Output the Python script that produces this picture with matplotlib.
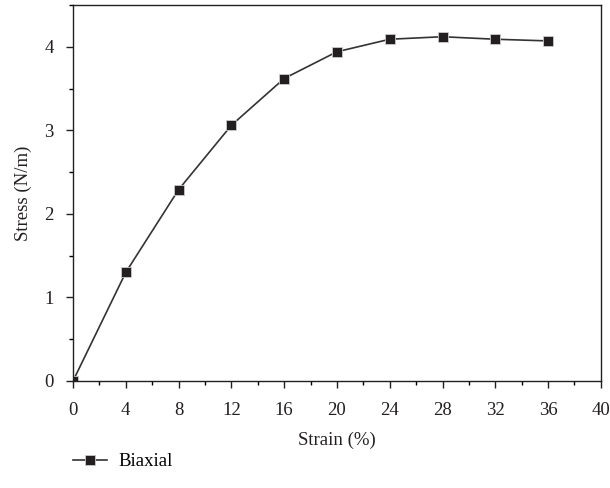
import matplotlib.pyplot as plt
from matplotlib.ticker import MultipleLocator

plt.rcParams['font.family'] = ['Liberation Serif', 'DejaVu Serif']

strain = [0, 4, 8, 12, 16, 20, 24, 28, 32, 36]
stress = [0.0, 1.30, 2.29, 3.06, 3.62, 3.94, 4.09, 4.12, 4.09, 4.07]

fig = plt.figure(figsize=(6.1, 4.88), dpi=100)
ax = fig.add_axes([0.1197, 0.2193, 0.8653, 0.7705])

ax.plot(strain, stress, color='#333333', lw=1.2, marker='s', markersize=7,
        markerfacecolor='#231f20', markeredgecolor='#cccccc', markeredgewidth=0.6,
        label='Biaxial')

ax.set_xlim(0, 40)
ax.set_ylim(0, 4.5)
ax.xaxis.set_major_locator(MultipleLocator(4))
ax.xaxis.set_minor_locator(MultipleLocator(2))
ax.yaxis.set_major_locator(MultipleLocator(1))
ax.yaxis.set_minor_locator(MultipleLocator(0.5))
ax.tick_params(which='major', direction='out', length=5, width=1, labelsize=13.5, colors='#231f20')
ax.tick_params(axis='x', which='major', pad=10)
ax.tick_params(axis='y', which='major', pad=9)
ax.tick_params(which='minor', direction='out', length=3, width=1)
for s in ax.spines.values():
    s.set_linewidth(1)
    s.set_color('#231f20')

ax.set_xlabel('Strain (%)', fontsize=13.5, color='#231f20', labelpad=9)
ax.set_ylabel('Stress (N/m)', fontsize=13.5, color='#231f20', labelpad=9)

ax.legend(loc='center left', bbox_to_anchor=(0.0, -0.215), frameon=False,
          fontsize=13.5, handlelength=1.8, handletextpad=0.6, borderaxespad=0,
          borderpad=0)

fig.savefig('out.png', dpi=100)
